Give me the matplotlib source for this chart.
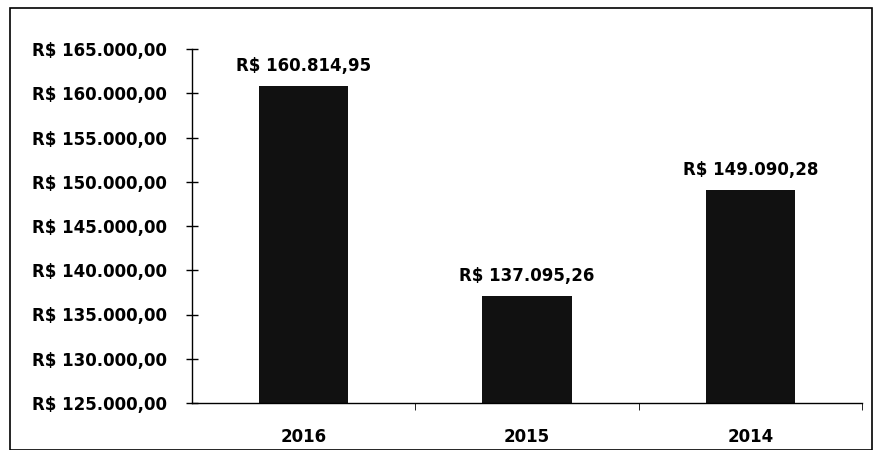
import matplotlib
matplotlib.use("Agg")
import matplotlib.pyplot as plt
from matplotlib.ticker import FuncFormatter, FixedLocator
from matplotlib.patches import Rectangle

years = ["2016", "2015", "2014"]
values = [160814.95, 137095.26, 149090.28]
y_ticks = [125000, 130000, 135000, 140000, 145000, 150000, 155000, 160000, 165000]

def brl(v, pos=None):
    s = f"{v:,.2f}"
    s = s.replace(",", "X").replace(".", ",").replace("X", ".")
    return f"R$ {s}"

plt.rcParams['font.family'] = ['DejaVu Sans']

fig = plt.figure(figsize=(8.74, 4.5), dpi=100)
ax = fig.add_axes([192/874, 1-403/450, (862-192)/874, (403-49)/450])

x = range(len(years))
ax.bar(x, values, width=0.4, color="#111111", zorder=2)
ax.set_xlim(-0.5, 2.5)
ax.set_ylim(125000, 165000)
ax.yaxis.set_major_locator(FixedLocator(y_ticks))
ax.yaxis.set_major_formatter(FuncFormatter(brl))
ax.set_xticks(list(x))
ax.set_xticklabels(years)
ax.tick_params(axis='x', length=0, pad=18, labelsize=12)
ax.tick_params(axis='y', direction='inout', length=8, width=1, labelsize=12, pad=14)
for lbl in ax.get_xticklabels() + ax.get_yticklabels():
    lbl.set_fontweight('bold')
ax.set_xticks([0.5, 1.5, 2.5], minor=True)
ax.tick_params(axis='x', which='minor', direction='out', length=5)

for s in ['top', 'right']:
    ax.spines[s].set_visible(False)
ax.spines['left'].set_linewidth(1)
ax.spines['bottom'].set_linewidth(1)

for xi, v in zip(x, values):
    ax.annotate(brl(v), (xi, v), xytext=(0, 8), textcoords='offset points',
                ha='center', va='bottom', fontsize=12, fontweight='bold')

fig.patches.append(Rectangle((10/874, 0), (872-10)/874, 1-8/450, transform=fig.transFigure,
                             fill=False, edgecolor='black', linewidth=1.2))

fig.savefig("out.png", dpi=100)
